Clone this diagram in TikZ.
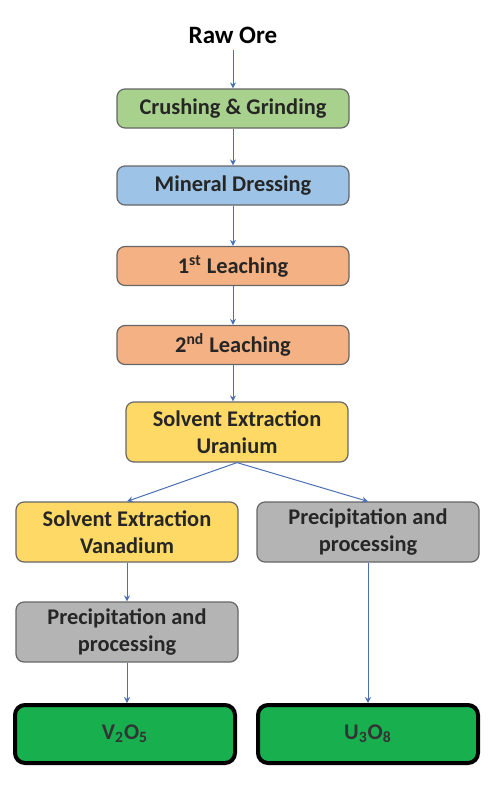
\documentclass[tikz,border=0pt]{standalone}
\usepackage{fontspec}
\setmainfont{Carlito}
\usetikzlibrary{arrows.meta}
\definecolor{greenfill}{HTML}{A9D18E}
\definecolor{bluefill}{HTML}{9DC3E6}
\definecolor{orangefill}{HTML}{F4B183}
\definecolor{yellowfill}{HTML}{FFD966}
\definecolor{grayfill}{HTML}{B4B4B4}
\definecolor{productfill}{HTML}{18B04F}
\definecolor{flowline}{HTML}{4A6FB5}
\begin{document}
\begin{tikzpicture}[x=0.5pt,y=-0.5pt,
    font=\fontsize{11.2}{13.5}\selectfont\bfseries,
    stage/.style={draw=black!60,line width=0.6pt,rounded corners=4pt,text=black!85,
      minimum width=116pt,minimum height=19.5pt,inner sep=1pt,align=center},
    wide/.style={stage,minimum width=111pt,minimum height=30pt},
    product/.style={draw=black,line width=2pt,rounded corners=5pt,fill=productfill,text=black!80,
      minimum width=110pt,minimum height=29pt,inner sep=1pt},
    flow/.style={draw=flowline,line width=0.5pt,-{Stealth[length=3pt,width=3pt]}}]
  \useasboundingbox (0,0) rectangle (500,787);

  \node (raw) at (233,35) {\fontsize{12.5}{15}\selectfont Raw Ore};
  \node[stage,fill=greenfill] (crush) at (233,108.5) {Crushing \& Grinding};
  \node[stage,fill=bluefill] (dress) at (233,185.5) {Mineral Dressing};
  \node[stage,fill=orangefill] (leachA) at (233,266) {1\textsuperscript{st} Leaching};
  \node[stage,fill=orangefill] (leachB) at (233,345) {2\textsuperscript{nd} Leaching};
  \node[wide,fill=yellowfill] (sxU) at (237,432) {Solvent Extraction\\Uranium};
  \node[wide,fill=yellowfill] (sxV) at (127,532) {Solvent Extraction\\Vanadium};
  \node[wide,fill=grayfill] (precU) at (368,532) {Precipitation and\\processing};
  \node[wide,fill=grayfill] (precV) at (127,632) {Precipitation and\\processing};
  \node[product] (vox) at (125,734) {V\textsubscript{2}O\textsubscript{5}};
  \node[product] (uox) at (368,734) {U\textsubscript{3}O\textsubscript{8}};

  \draw[flow] (raw) -- (crush);
  \draw[flow] (crush) -- (dress);
  \draw[flow] (dress) -- (leachA);
  \draw[flow] (leachA) -- (leachB);
  \draw[flow] (leachB.south) -- (leachB.south |- sxU.north);
  \draw[flow] (sxU.south) -- (sxV.north);
  \draw[flow] (sxU.south) -- (precU.north);
  \draw[flow] (sxV) -- (precV);
  \draw[flow] (precV.south) -- (precV.south |- vox.north);
  \draw[flow] (precU) -- (uox);
\end{tikzpicture}
\end{document}
